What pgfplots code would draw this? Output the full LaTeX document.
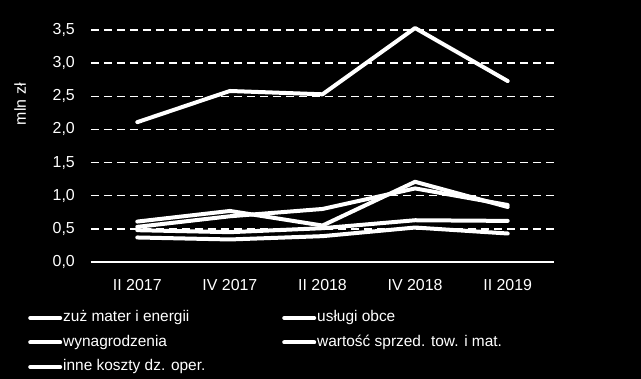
\documentclass[border=0pt]{standalone}
\usepackage{fontspec}
\setmainfont{Liberation Sans}
\usepackage{pgfplots}
\pgfplotsset{compat=1.18}
\begin{document}
\begin{tikzpicture}
\fill[black] (-91bp,-117bp) rectangle (550bp,262bp);
\begin{axis}[
  scale only axis, width=463bp, height=232bp,
  at={(0,0)}, anchor=south west,
  xmin=-0.5, xmax=4.5, ymin=0, ymax=3.5, clip=false,
  axis x line*=bottom, axis y line*=left,
  x axis line style={white, line width=1.5bp, -},
  y axis line style={draw=none},
  xtick={0,1,2,3,4},
  xticklabels={II 2017, IV 2017, II 2018, IV 2018, II 2019},
  xtick style={draw=none},
  extra x ticks={-0.5,0.5,1.5,2.5,3.5,4.5},
  extra x tick labels={},
  extra x tick style={tick align=outside, major tick length=6bp, tick style={white, line width=1.5bp}, grid=none},
  ytick={0,0.5,...,3.5},
  ytick style={draw=none},
  ymajorgrids,
  major grid style={white, line width=1.5bp, dash pattern=on 8bp off 5bp},
  /pgf/number format/assume math mode=true,
  /pgf/number format/fixed,
  /pgf/number format/fixed zerofill,
  /pgf/number format/precision=1,
  /pgf/number format/use comma,
  ticklabel style={text=white, font=\fontsize{16}{19}\selectfont},
  yticklabel style={anchor=east, inner sep=0pt, xshift=-16bp},
  xticklabel style={anchor=north, inner sep=0pt, yshift=-17bp},
  legend columns=2,
  legend style={at={(axis description cs:-0.136,-0.206)}, anchor=north west,
    fill=black, draw=none, text=white, inner sep=0pt, column sep=0pt, row sep=8.5bp,
    font=\fontsize{15.5}{18}\selectfont,
    nodes={inner sep=1bp, text height=11bp, text depth=3bp}},
  legend cell align=left,
  legend image code/.code={\draw[#1, line cap=round] (0bp,0bp) -- (30bp,0bp);},
  cycle list={white\\},
  every axis plot post/.append style={white, mark=none, line width=4bp, line join=round, line cap=round},
]
\addplot coordinates {(0,2.11) (1,2.58) (2,2.53) (3,3.53) (4,2.73)};
\addlegendentry{\makebox[218bp][l]{zuż mater i energii}}
\addplot coordinates {(0,0.61) (1,0.77) (2,0.55) (3,1.21) (4,0.83)};
\addlegendentry{usługi obce}
\addplot coordinates {(0,0.53) (1,0.69) (2,0.80) (3,1.11) (4,0.86)};
\addlegendentry{\makebox[218bp][l]{wynagrodzenia}}
\addplot coordinates {(0,0.48) (1,0.45) (2,0.51) (3,0.63) (4,0.62)};
\addlegendentry{wartość sprzed. tow. i mat.}
\addplot coordinates {(0,0.37) (1,0.34) (2,0.39) (3,0.52) (4,0.43)};
\addlegendentry{\makebox[218bp][l]{inne koszty dz. oper.}}
\node[rotate=90, text=white, font=\fontsize{16}{19}\selectfont, anchor=center]
  at (axis description cs:-0.153,0.68) {mln zł};
\end{axis}
\pgfresetboundingbox
\useasboundingbox (-91bp,-117bp) rectangle (550bp,262bp);
\end{tikzpicture}
\end{document}
